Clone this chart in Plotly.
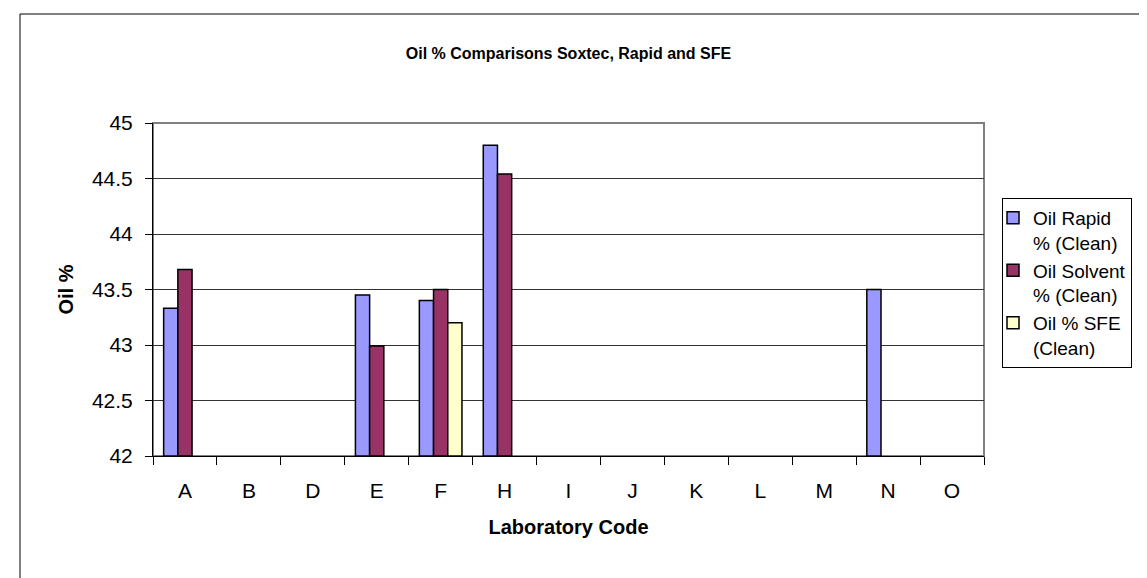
import plotly.graph_objects as go

categories = ["A", "B", "D", "E", "F", "H", "I", "J", "K", "L", "M", "N", "O"]
rapid = [43.33, None, None, 43.45, 43.40, 44.80, None, None, None, None, None, 43.50, None]
solvent = [43.68, None, None, 42.99, 43.50, 44.54, None, None, None, None, None, None, None]
sfe = [None, None, None, None, 43.20, None, None, None, None, None, None, None, None]
series_names = ["Oil Rapid<br>% (Clean)", "Oil Solvent<br>% (Clean)", "Oil % SFE<br>(Clean)"]
series_colors = ["#9999FF", "#993366", "#FFFFCC"]
y_ticks = [42, 42.5, 43, 43.5, 44, 44.5, 45]

W, H = 1147, 578
L, R, T, B = 145, 976, 115, 448
pw, ph = R - L, B - T

def px_x(x):
    return (x - L) / pw

def px_y(y):
    return (B - y) / ph

fig = go.Figure()
for name, vals, col in zip(series_names, [rapid, solvent, sfe], series_colors):
    fig.add_trace(go.Bar(
        x=categories, y=[(v - 42) if v is not None else None for v in vals],
        base=42, name=name,
        marker=dict(color=col, line=dict(color="black", width=1.5)),
    ))

font = "Liberation Sans, Arial, sans-serif"
fig.update_layout(
    width=W, height=H,
    margin=dict(l=L, r=W - R, t=T, b=H - B),
    paper_bgcolor="white", plot_bgcolor="white",
    barmode="group", bargap=1.5 / 4.5, bargroupgap=0,
    font=dict(family=font, color="black", size=21),
    title=dict(text="<b>Oil % Comparisons Soxtec, Rapid and SFE</b>",
               font=dict(size=16), x=px_x((L + R) / 2), xanchor="center",
               xref="paper", yref="container", y=1 - 45 / H, yanchor="middle"),
    xaxis=dict(type="category", categoryorder="array", categoryarray=categories,
               tickson="boundaries", ticks="outside", ticklen=8, tickcolor="black",
               showline=True, linecolor="black", linewidth=1,
               showgrid=False, tickfont=dict(size=21), ticklabelstandoff=16,
               title=dict(text="<b>Laboratory Code</b>", font=dict(size=20), standoff=18)),
    yaxis=dict(range=[42, 45], tickvals=y_ticks, ticktext=[f"{v:g}" for v in y_ticks],
               ticks="outside", ticklen=7, tickcolor="black",
               showline=True, linecolor="black", linewidth=1,
               showgrid=True, gridcolor="#333333", gridwidth=1,
               tickfont=dict(size=21), zeroline=False, ticklabelstandoff=8,
               title=dict(text="<b>Oil %</b>", font=dict(size=20), standoff=12)),
    legend=dict(x=px_x(994), y=px_y(190), xanchor="left", yanchor="top",
                bordercolor="black", borderwidth=1, bgcolor="white",
                font=dict(size=19), valign="top", itemwidth=30, indentation=-10),
    showlegend=True,
)

# plot-area border (gray) and outer chart border
fig.add_shape(type="rect", xref="paper", yref="paper", x0=0, x1=1, y0=0, y1=1,
              line=dict(color="#808080", width=2), layer="below")
fig.add_shape(type="rect", xref="paper", yref="paper",
              x0=px_x(12), x1=px_x(1138), y0=px_y(585), y1=px_y(6),
              line=dict(color="black", width=1))

fig.write_html("out.html")
